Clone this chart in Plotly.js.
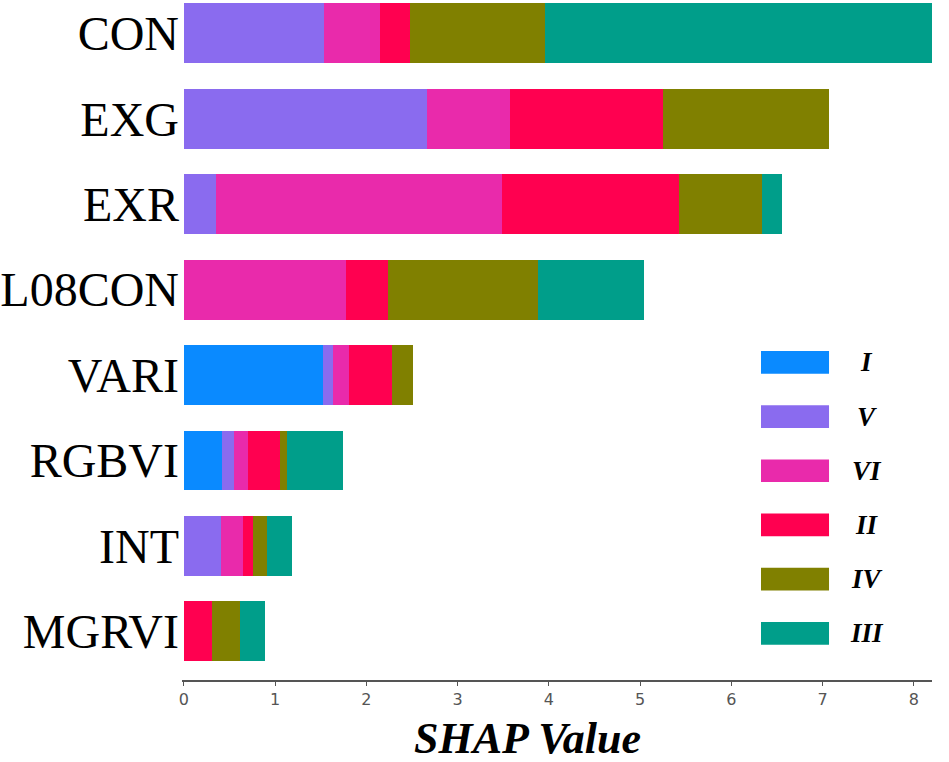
<!DOCTYPE html>
<html>
<head>
<meta charset="utf-8">
<script src="https://cdn.plot.ly/plotly-3.0.1.min.js"></script>
<style>
  body { margin: 0; background: #fff; }
  #chart { width: 949px; height: 762px; }
</style>
</head>
<body>
<div id="chart"></div>
<script>
// features, top to bottom
const features = ["CON", "EXG", "EXR", "L08CON", "VARI", "RGBVI", "INT", "MGRVI"];

// classes in stack order (left to right), same as legend order
const classNames = ["I", "V", "VI", "II", "IV", "III"];
const classColors = ["#0A8AFF", "#8A6BEF", "#E92AAB", "#FF0050", "#808000", "#009E8A"];

// mean |SHAP| per class
const valI   = [0,    0,    0,    0,    1.52, 0.42, 0,    0   ];
const valV   = [1.54, 2.66, 0.35, 0,    0.12, 0.13, 0.41, 0   ];
const valVI  = [0.61, 0.91, 3.14, 1.78, 0.17, 0.15, 0.24, 0   ];
const valII  = [0.33, 1.68, 1.94, 0.46, 0.47, 0.35, 0.11, 0.31];
const valIV  = [1.48, 1.82, 0.91, 1.64, 0.23, 0.08, 0.15, 0.31];
const valIII = [4.24, 0,    0.22, 1.16, 0,    0.61, 0.28, 0.27];

const xTicks = [0, 1, 2, 3, 4, 5, 6, 7, 8];

const seriesValues = [valI, valV, valVI, valII, valIV, valIII];

const traces = classNames.map((name, i) => ({
  type: "bar",
  orientation: "h",
  name: name,
  y: features,
  x: seriesValues[i],
  marker: { color: classColors[i], line: { width: 0 } },
  hoverinfo: "x+y+name",
}));

// hand-drawn legend: big swatches like the original
const shapes = [];
const annotations = [];
classNames.forEach((name, i) => {
  const top = 0.4838 - i * 0.0797;
  shapes.push({
    type: "rect",
    xref: "paper",
    yref: "paper",
    x0: 0.772,
    x1: 0.8627,
    y0: top - 0.0334,
    y1: top,
    fillcolor: classColors[i],
    line: { width: 0 },
  });
  annotations.push({
    xref: "paper",
    yref: "paper",
    x: 0.9133,
    y: top - 0.0167,
    xanchor: "center",
    yanchor: "middle",
    showarrow: false,
    text: "<b><i>" + name + "</i></b>",
    font: { family: "Liberation Serif", size: 27, color: "#000" },
  });
});

// axis title placed like the original (left of plot centre)
annotations.push({
  xref: "paper",
  yref: "paper",
  x: 0.461,
  y: -0.0853,
  xanchor: "center",
  yanchor: "middle",
  showarrow: false,
  text: "<b><i>SHAP Value</i></b>",
  font: { family: "Liberation Serif", size: 44, color: "#000" },
});

const layout = {
  width: 949,
  height: 762,
  barmode: "stack",
  bargap: 0.3,
  showlegend: false,
  paper_bgcolor: "#fff",
  plot_bgcolor: "#fff",
  margin: { l: 182, r: 17, t: 0, b: 82 },
  xaxis: {
    range: [-0.02, 8.2],
    tickvals: xTicks,
    ticktext: xTicks.map(String),
    showgrid: false,
    zeroline: false,
    showline: true,
    linecolor: "#555",
    linewidth: 2,
    ticks: "outside",
    ticklen: 4,
    tickcolor: "#555",
    tickfont: { family: "DejaVu Sans", size: 16, color: "#555" },
  },
  yaxis: {
    type: "category",
    categoryorder: "array",
    categoryarray: features,
    range: [7.57, -0.39],
    showgrid: false,
    zeroline: false,
    showline: false,
    ticks: "",
    ticklabelstandoff: 2,
    tickfont: { family: "Liberation Serif", size: 48, color: "#000" },
  },
  shapes: shapes,
  annotations: annotations,
};

Plotly.newPlot("chart", traces, layout, { displayModeBar: false, staticPlot: true });
</script>
</body>
</html>
